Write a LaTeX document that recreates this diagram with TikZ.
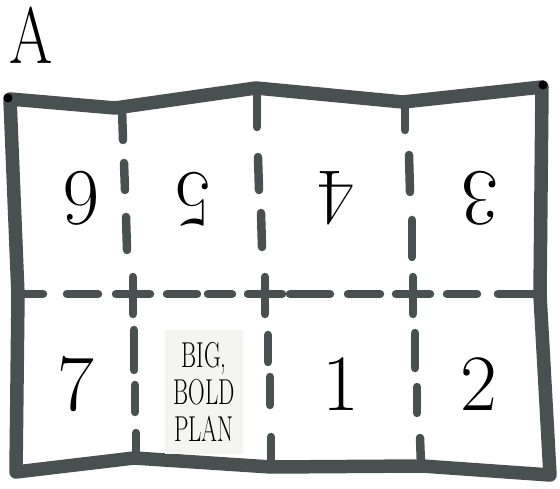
\documentclass[tikz,border=0pt]{standalone}
\usepackage{tikz}
\definecolor{foldgray}{RGB}{72,80,80}
\definecolor{planbg}{RGB}{244,244,241}

\begin{document}
\begin{tikzpicture}[x=1pt,y=-1pt,
    edge/.style={foldgray,line width=13.5pt,line cap=round,line join=round},
    fold/.style={foldgray,line width=8.5pt,line cap=round},
    page/.style={font=\fontsize{80}{80}\selectfont,inner sep=0pt}]
  \useasboundingbox (0,0) rectangle (560,489);

  %% Sheet label
  \node[font=\fontsize{80}{80}\selectfont,inner sep=0pt,xscale=0.78] (label) at (31,35) {A};

  %% Outer edge of the sheet
  \draw[edge] (10,99) -- (115,108) -- (256,88) -- (403,102) -- (542,87)
    -- (540,295) -- (550,475) -- (422,466) -- (271,467) -- (134,458)
    -- (16,472) -- (18,295) -- cycle;
  \fill[black] (8,98) circle (4.5pt);
  \fill[black] (543,85) circle (4.5pt);

  %% Horizontal fold
  \foreach \a/\b in {18/43,67/98,167/197,208/232,290/330,348/380,447/477,498/537}
    \draw[fold] (\a,294) -- (\b,294);

  %% Vertical folds
  \foreach \xa/\ya/\xb/\yb in {122/108/123/140, 124/163/125/190, 126/217/127/250,
      134/330/134/370, 135/385/135/412, 136/433/136/457,
      257/88/257/127, 258/157/259/190, 261/213/262/247,
      268/335/268/362, 270/377/270/405, 271/437/271/467,
      405/102/405/130, 409/155/410/192, 412/220/412/257,
      415/333/415/368, 417/387/417/413, 420/438/421/465}
    \draw[fold] (\xa,\ya) -- (\xb,\yb);

  %% Crossings
  \foreach \x in {133,265,413}
    \draw[fold] (\x-17,294) -- (\x+17,294) (\x,277) -- (\x,314);

  %% Top row, upside down
  \node[page,rotate=180] (p6) at (81,198) {6};
  \node[page,rotate=180] (p5) at (193,199) {5};
  \node[page,rotate=180] (p4) at (336,198) {4};
  \node[page,rotate=180] (p3) at (480,198) {3};

  %% Bottom row
  \node[page] (p7) at (76,384) {7};
  \node[page,fill=planbg,inner sep=0pt,minimum width=122pt,minimum height=123pt,
        xscale=0.64,align=center,font=\fontsize{36}{37}\selectfont] (cover) at (204,392)
        {BIG,\\BOLD\\PLAN};
  \node[page] (p1) at (341,384) {1};
  \node[page] (p2) at (479,384) {2};
\end{tikzpicture}
\end{document}
